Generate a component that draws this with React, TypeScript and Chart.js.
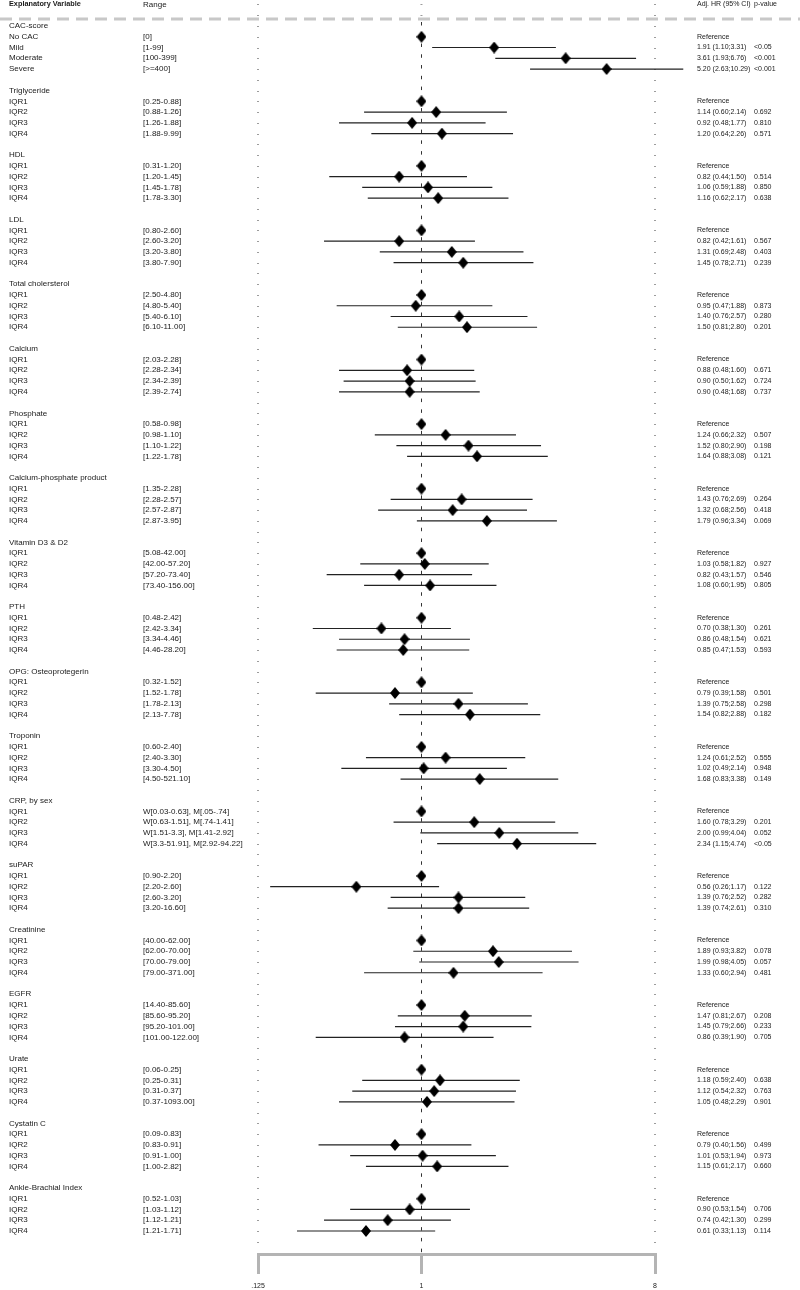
import React, { useEffect, useRef } from 'react';
import { Chart, registerables } from 'chart.js';

Chart.register(...registerables);

// ---------------- data ----------------
const GROUPS = [
  'CAC-score', 'Triglyceride', 'HDL', 'LDL', 'Total cholersterol', 'Calcium', 'Phosphate',
  'Calcium-phosphate product', 'Vitamin D3 & D2', 'PTH', 'OPG: Osteoprotegerin', 'Troponin',
  'CRP, by sex', 'suPAR', 'Creatinine', 'EGFR', 'Urate', 'Cystatin C', 'Ankle-Brachial Index',
];

const CAC_LABELS = ['No CAC', 'Mild', 'Moderate', 'Severe'];
const IQR_LABELS = ['IQR1', 'IQR2', 'IQR3', 'IQR4'];

const RANGES = [
  ['[0]', '[1-99]', '[100-399]', '[>=400]'],
  ['[0.25-0.88]', '[0.88-1.26]', '[1.26-1.88]', '[1.88-9.99]'],
  ['[0.31-1.20]', '[1.20-1.45]', '[1.45-1.78]', '[1.78-3.30]'],
  ['[0.80-2.60]', '[2.60-3.20]', '[3.20-3.80]', '[3.80-7.90]'],
  ['[2.50-4.80]', '[4.80-5.40]', '[5.40-6.10]', '[6.10-11.00]'],
  ['[2.03-2.28]', '[2.28-2.34]', '[2.34-2.39]', '[2.39-2.74]'],
  ['[0.58-0.98]', '[0.98-1.10]', '[1.10-1.22]', '[1.22-1.78]'],
  ['[1.35-2.28]', '[2.28-2.57]', '[2.57-2.87]', '[2.87-3.95]'],
  ['[5.08-42.00]', '[42.00-57.20]', '[57.20-73.40]', '[73.40-156.00]'],
  ['[0.48-2.42]', '[2.42-3.34]', '[3.34-4.46]', '[4.46-28.20]'],
  ['[0.32-1.52]', '[1.52-1.78]', '[1.78-2.13]', '[2.13-7.78]'],
  ['[0.60-2.40]', '[2.40-3.30]', '[3.30-4.50]', '[4.50-521.10]'],
  ['W[0.03-0.63], M[.05-.74]', 'W[0.63-1.51], M[.74-1.41]', 'W[1.51-3.3], M[1.41-2.92]', 'W[3.3-51.91], M[2.92-94.22]'],
  ['[0.90-2.20]', '[2.20-2.60]', '[2.60-3.20]', '[3.20-16.60]'],
  ['[40.00-62.00]', '[62.00-70.00]', '[70.00-79.00]', '[79.00-371.00]'],
  ['[14.40-85.60]', '[85.60-95.20]', '[95.20-101.00]', '[101.00-122.00]'],
  ['[0.06-0.25]', '[0.25-0.31]', '[0.31-0.37]', '[0.37-1093.00]'],
  ['[0.09-0.83]', '[0.83-0.91]', '[0.91-1.00]', '[1.00-2.82]'],
  ['[0.52-1.03]', '[1.03-1.12]', '[1.12-1.21]', '[1.21-1.71]'],
];

// hazard ratios (null = reference category)
const HR = [
  [null, 1.91, 3.61, 5.20],
  [null, 1.14, 0.92, 1.20],
  [null, 0.82, 1.06, 1.16],
  [null, 0.82, 1.31, 1.45],
  [null, 0.95, 1.40, 1.50],
  [null, 0.88, 0.90, 0.90],
  [null, 1.24, 1.52, 1.64],
  [null, 1.43, 1.32, 1.79],
  [null, 1.03, 0.82, 1.08],
  [null, 0.70, 0.86, 0.85],
  [null, 0.79, 1.39, 1.54],
  [null, 1.24, 1.02, 1.68],
  [null, 1.60, 2.00, 2.34],
  [null, 0.56, 1.39, 1.39],
  [null, 1.89, 1.99, 1.33],
  [null, 1.47, 1.45, 0.86],
  [null, 1.18, 1.12, 1.05],
  [null, 0.79, 1.01, 1.15],
  [null, 0.90, 0.74, 0.61],
];

const LO = [
  [null, 1.10, 1.93, 2.63],
  [null, 0.60, 0.48, 0.64],
  [null, 0.44, 0.59, 0.62],
  [null, 0.42, 0.69, 0.78],
  [null, 0.47, 0.76, 0.81],
  [null, 0.48, 0.50, 0.48],
  [null, 0.66, 0.80, 0.88],
  [null, 0.76, 0.68, 0.96],
  [null, 0.58, 0.43, 0.60],
  [null, 0.38, 0.48, 0.47],
  [null, 0.39, 0.75, 0.82],
  [null, 0.61, 0.49, 0.83],
  [null, 0.78, 0.99, 1.15],
  [null, 0.26, 0.76, 0.74],
  [null, 0.93, 0.98, 0.60],
  [null, 0.81, 0.79, 0.39],
  [null, 0.59, 0.54, 0.48],
  [null, 0.40, 0.53, 0.61],
  [null, 0.53, 0.42, 0.33],
];

const HI = [
  [null, 3.31, 6.76, 10.29],
  [null, 2.14, 1.77, 2.26],
  [null, 1.50, 1.88, 2.17],
  [null, 1.61, 2.48, 2.71],
  [null, 1.88, 2.57, 2.80],
  [null, 1.60, 1.62, 1.68],
  [null, 2.32, 2.90, 3.08],
  [null, 2.69, 2.56, 3.34],
  [null, 1.82, 1.57, 1.95],
  [null, 1.30, 1.54, 1.53],
  [null, 1.58, 2.58, 2.88],
  [null, 2.52, 2.14, 3.38],
  [null, 3.29, 4.04, 4.74],
  [null, 1.17, 2.52, 2.61],
  [null, 3.82, 4.05, 2.94],
  [null, 2.67, 2.66, 1.90],
  [null, 2.40, 2.32, 2.29],
  [null, 1.56, 1.94, 2.17],
  [null, 1.54, 1.30, 1.13],
];

const PVAL = [
  ['', '<0.05', '<0.001', '<0.001'],
  ['', '0.692', '0.810', '0.571'],
  ['', '0.514', '0.850', '0.638'],
  ['', '0.567', '0.403', '0.239'],
  ['', '0.873', '0.280', '0.201'],
  ['', '0.671', '0.724', '0.737'],
  ['', '0.507', '0.198', '0.121'],
  ['', '0.264', '0.418', '0.069'],
  ['', '0.927', '0.546', '0.805'],
  ['', '0.261', '0.621', '0.593'],
  ['', '0.501', '0.298', '0.182'],
  ['', '0.555', '0.948', '0.149'],
  ['', '0.201', '0.052', '<0.05'],
  ['', '0.122', '0.282', '0.310'],
  ['', '0.078', '0.057', '0.481'],
  ['', '0.208', '0.233', '0.705'],
  ['', '0.638', '0.763', '0.901'],
  ['', '0.499', '0.973', '0.660'],
  ['', '0.706', '0.299', '0.114'],
];

const HEADERS = ['Explanatory Variable', 'Range', 'Adj. HR (95% CI)', 'p-value'];
const REFERENCE_TEXT = 'Reference';
const TICK_VALUES = [0.2333, 1, 8];
const TICK_LABELS = ['.125', '1', '8'];

// ---------------- layout ----------------
const FONT = '"Liberation Sans", Arial, Helvetica, sans-serif';
const ROWS_PER_GROUP = 6;
const Y_MIN = -2.4166;
const Y_MAX = 114.14;
const COL_X = [9, 143, 697, 754];
const HEADER_ROW = -2;
const HEADER_LINE_ROW = -0.65;
const LAST_ROW = 113;

const titleRow = (g: number) => g * ROWS_PER_GROUP;
const itemRow = (g: number, i: number) => g * ROWS_PER_GROUP + 1 + i;
const itemLabel = (g: number, i: number) => (g === 0 ? CAC_LABELS[i] : IQR_LABELS[i]);
const estText = (g: number, i: number) =>
  HR[g][i] == null
    ? REFERENCE_TEXT
    : `${(HR[g][i] as number).toFixed(2)} (${(LO[g][i] as number).toFixed(2)};${(HI[g][i] as number).toFixed(2)})`;

const decorPlugin = {
  id: 'forestDecor',
  beforeDatasetsDraw(chart: any) {
    const { ctx } = chart;
    const x = chart.scales.x;
    const y = chart.scales.y;
    ctx.save();
    // header dashed separator
    const yh = y.getPixelForValue(HEADER_LINE_ROW);
    ctx.strokeStyle = '#c8c8c8';
    ctx.lineWidth = 3;
    ctx.setLineDash([12, 7]);
    ctx.beginPath();
    ctx.moveTo(0, yh);
    ctx.lineTo(chart.width, yh);
    ctx.stroke();
    // small row marks at axis ends
    ctx.setLineDash([]);
    ctx.strokeStyle = '#9c9c9c';
    ctx.lineWidth = 1;
    for (let r = HEADER_ROW; r <= LAST_ROW; r++) {
      const py = Math.round(y.getPixelForValue(r)) + 0.5;
      const vals = r < HEADER_LINE_ROW ? TICK_VALUES : [TICK_VALUES[0], TICK_VALUES[2]];
      for (const v of vals) {
        const px = x.getPixelForValue(v);
        ctx.beginPath();
        ctx.moveTo(px - 1, py);
        ctx.lineTo(px + 1, py);
        ctx.stroke();
      }
    }
    // reference line at HR = 1
    const x1 = Math.round(x.getPixelForValue(1)) + 0.5;
    ctx.strokeStyle = '#333';
    ctx.lineWidth = 1;
    ctx.setLineDash([3.5, 7.26]);
    ctx.beginPath();
    ctx.moveTo(x1, yh + 3);
    ctx.lineTo(x1, chart.chartArea.bottom);
    ctx.stroke();
    ctx.restore();
  },
  afterDraw(chart: any) {
    const { ctx } = chart;
    const y = chart.scales.y;
    ctx.save();
    ctx.textBaseline = 'middle';
    ctx.textAlign = 'left';
    ctx.fillStyle = '#1a1a1a';
    const hy = y.getPixelForValue(HEADER_ROW);
    HEADERS.forEach((h, i) => {
      ctx.font = i === 0 ? 'bold 7.3px ' + FONT : i === 1 ? '8px ' + FONT : '7px ' + FONT;
      ctx.fillText(h, COL_X[i], hy);
    });
    GROUPS.forEach((name, g) => {
      ctx.font = '8px ' + FONT;
      ctx.fillText(name, COL_X[0], y.getPixelForValue(titleRow(g)));
      for (let i = 0; i < 4; i++) {
        const py = y.getPixelForValue(itemRow(g, i));
        ctx.font = '8px ' + FONT;
        ctx.fillText(itemLabel(g, i), COL_X[0], py);
        ctx.fillText(RANGES[g][i], COL_X[1], py);
        ctx.font = '7px ' + FONT;
        ctx.fillText(estText(g, i), COL_X[2], py);
        if (PVAL[g][i]) ctx.fillText(PVAL[g][i], COL_X[3], py);
      }
    });
    ctx.restore();
  },
};

function makeDiamond() {
  const c = document.createElement('canvas');
  c.width = 10;
  c.height = 12;
  const g = c.getContext('2d') as CanvasRenderingContext2D;
  g.fillStyle = '#000';
  g.beginPath();
  g.moveTo(5, 0);
  g.lineTo(10, 6);
  g.lineTo(5, 12);
  g.lineTo(0, 6);
  g.closePath();
  g.fill();
  return c;
}

export default function App() {
  const ref = useRef<HTMLCanvasElement | null>(null);

  useEffect(() => {
    if (!ref.current) return;
    const diamond = makeDiamond();

    const points: { x: number; y: number }[] = [];
    const ciSets: any[] = [];
    GROUPS.forEach((_, g) => {
      for (let i = 0; i < 4; i++) {
        const row = itemRow(g, i);
        const hr = HR[g][i];
        points.push({ x: hr == null ? 1 : hr, y: row });
        if (hr != null) {
          ciSets.push({
            label: `ci-${g}-${i}`,
            data: [
              { x: LO[g][i], y: row },
              { x: HI[g][i], y: row },
            ],
            showLine: true,
            borderColor: '#222',
            borderWidth: 1.2,
            pointRadius: 0,
            clip: false,
          });
        }
      }
    });

    const chart = new Chart(ref.current, {
      type: 'scatter',
      data: {
        datasets: [
          {
            label: 'HR',
            data: points,
            pointStyle: diamond as any,
            pointRadius: 5,
            backgroundColor: '#000',
            borderColor: '#000',
            clip: false,
          } as any,
          ...ciSets,
        ],
      },
      options: {
        animation: false,
        responsive: false,
        events: [],
        layout: { autoPadding: false, padding: { left: 258, right: 145, top: 0, bottom: 0 } },
        plugins: { legend: { display: false }, tooltip: { enabled: false } },
        scales: {
          x: {
            type: 'logarithmic',
            min: TICK_VALUES[0],
            max: TICK_VALUES[2],
            bounds: 'data',
            afterBuildTicks: (s: any) => {
              s.ticks = TICK_VALUES.map((v) => ({ value: v }));
            },
            afterFit: (s: any) => {
              s.height = 36;
            },
            ticks: {
              autoSkip: false,
              maxRotation: 0,
              padding: 8,
              color: '#1a1a1a',
              font: { size: 7, family: FONT },
              callback: (_v: any, i: number) => TICK_LABELS[i],
            },
            grid: {
              drawOnChartArea: false,
              drawTicks: true,
              tickLength: 20,
              tickWidth: 3,
              tickColor: '#b4b4b4',
              lineWidth: 3,
              color: '#b4b4b4',
            },
            border: { display: true, color: '#b4b4b4', width: 3 },
          } as any,
          y: {
            type: 'linear',
            display: false,
            reverse: true,
            min: Y_MIN,
            max: Y_MAX,
          },
        },
      },
      plugins: [decorPlugin],
    });
    return () => chart.destroy();
  }, []);

  return (
    <div style={{ position: 'absolute', left: 0, top: 0, width: 800, height: 1290, background: '#fff' }}>
      <canvas ref={ref} width={800} height={1290} style={{ display: 'block' }} />
    </div>
  );
}
